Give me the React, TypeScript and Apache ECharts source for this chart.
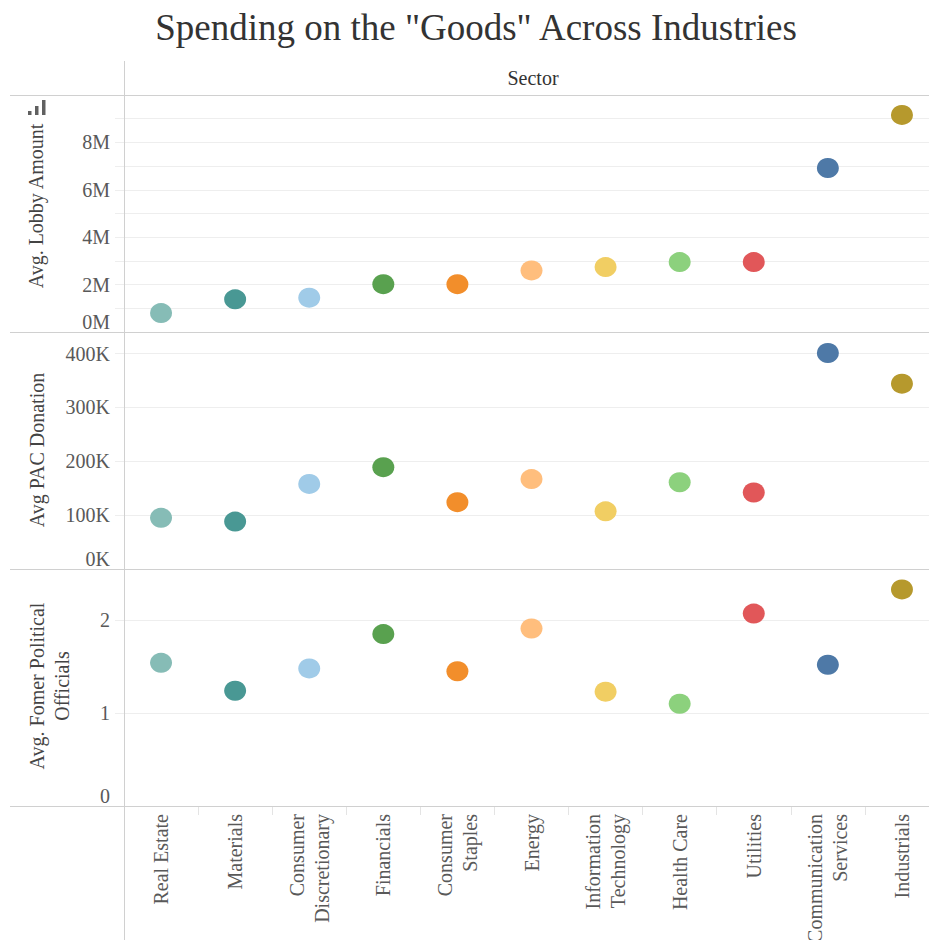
import React, { useEffect, useRef } from "react";
import * as echarts from "echarts";

const categories = [
  "Real Estate",
  "Materials",
  "Consumer\nDiscretionary",
  "Financials",
  "Consumer\nStaples",
  "Energy",
  "Information\nTechnology",
  "Health Care",
  "Utilities",
  "Communication\nServices",
  "Industrials",
];
const colors = [
  "#86bcb6",
  "#499894",
  "#a0cbe8",
  "#59a14f",
  "#f28e2b",
  "#ffbe7d",
  "#f1ce63",
  "#8cd17d",
  "#e15759",
  "#4e79a7",
  "#b6992d",
];
const lobbyAmount = [0.8e6, 1.38e6, 1.45e6, 2.02e6, 2.02e6, 2.6e6, 2.74e6, 2.95e6, 2.95e6, 6.92e6, 9.16e6];
const pacDonation = [95000, 88000, 158000, 189000, 124000, 167000, 107000, 161000, 142000, 401000, 344000];
const formerOfficials = [1.54, 1.24, 1.48, 1.85, 1.45, 1.91, 1.23, 1.1, 2.07, 1.52, 2.33];

const lobbyTickLabels = ["0M", "2M", "4M", "6M", "8M"];
const pacTickLabels = ["0K", "100K", "200K", "300K", "400K"];
const officialsTickLabels = ["0", "1", "2"];

const panelTitles = ["Avg. Lobby Amount", "Avg PAC Donation", "Avg. Fomer Political\nOfficials"];
const chartTitle = 'Spending on the "Goods" Across Industries';
const headerTitle = "Sector";

const FONT = "'Liberation Serif', 'Times New Roman', serif";
const GRID_COLOR = "#eeeeee";
const BORDER = "#d0d0d0";
const LABEL_COLOR = "#595959";

export default function App() {
  const ref = useRef<HTMLDivElement>(null);
  useEffect(() => {
    document.body.style.margin = "0";
    if (!ref.current) return;
    const chart = echarts.init(ref.current, null, { renderer: "svg" });

    const tops = [95, 332, 569];
    const H = 237;
    const grids = tops.map((t) => ({
      left: 124,
      top: t,
      width: 815,
      height: H,
      containLabel: false,
      outerBoundsMode: "none",
    }));

    const xAxes = tops.map((_, i) => ({
      type: "category",
      gridIndex: i,
      data: categories,
      show: i === 2,
      boundaryGap: true,
      axisLine: { show: false },
      axisTick: { show: i === 2, length: 9, interval: 0, lineStyle: { color: "#e4e4e4" } },
      axisLabel: {
        show: i === 2,
        interval: 0,
        rotate: 90,
        margin: 8,
        fontFamily: FONT,
        fontSize: 20,
        lineHeight: 25,
        color: LABEL_COLOR,
      },
      splitLine: { show: false },
    }));

    const yCommon = {
      type: "value",
      axisLine: { show: false },
      axisTick: { show: true, length: 9, lineStyle: { color: GRID_COLOR } },
      splitLine: { show: true, lineStyle: { color: GRID_COLOR, width: 1 } },
    };
    const labelStyle = {
      margin: 14,
      fontFamily: FONT,
      fontSize: 20,
      color: LABEL_COLOR,
      verticalAlignMinLabel: "bottom",
      showMaxLabel: false,
    };
    const yAxes = [
      {
        ...yCommon,
        gridIndex: 0,
        min: 0,
        max: 10e6,
        interval: 1e6,
        axisLabel: {
          ...labelStyle,
          formatter: (v: number) => {
            const idx = Math.round(v / 2e6);
            return Math.abs(v - idx * 2e6) < 1 && idx < lobbyTickLabels.length ? lobbyTickLabels[idx] : "";
          },
        },
      },
      {
        ...yCommon,
        gridIndex: 1,
        min: 0,
        max: 440000,
        interval: 100000,
        axisLabel: {
          ...labelStyle,
          formatter: (v: number) => {
            const idx = Math.round(v / 100000);
            return Math.abs(v - idx * 100000) < 1 && idx < pacTickLabels.length ? pacTickLabels[idx] : "";
          },
        },
      },
      {
        ...yCommon,
        gridIndex: 2,
        min: 0,
        max: 2.55,
        interval: 1,
        axisLabel: {
          ...labelStyle,
          formatter: (v: number) => {
            const idx = Math.round(v);
            return Math.abs(v - idx) < 1e-6 && idx < officialsTickLabels.length ? officialsTickLabels[idx] : "";
          },
        },
      },
    ];

    const mk = (vals: number[], i: number) => ({
      type: "scatter",
      xAxisIndex: i,
      yAxisIndex: i,
      symbol: "circle",
      symbolSize: [22, 20],
      data: vals.map((v, k) => ({ value: v, itemStyle: { color: colors[k], opacity: 1 } })),
      z: 5,
    });

    const hLines = [95, 332, 569, 806].map((y) => ({
      type: "line",
      shape: { x1: 10, y1: y + 0.5, x2: 929, y2: y + 0.5 },
      style: { stroke: BORDER, lineWidth: 1 },
      z: 10,
    }));

    const titleCenters = [
      { x: 36, y: 206 },
      { x: 37, y: 450 },
      { x: 49, y: 686 },
    ];
    const rotatedTitles = panelTitles.map((t, i) => ({
      type: "text",
      x: titleCenters[i].x,
      y: titleCenters[i].y,
      rotation: Math.PI / 2,
      style: {
        text: t,
        align: "center",
        verticalAlign: "middle",
        fontFamily: FONT,
        fontSize: 20,
        lineHeight: 25,
        fill: "#444",
      },
      z: 10,
    }));

    const iconBars = [
      { x: 28, h: 4 },
      { x: 35, h: 9 },
      { x: 42, h: 15 },
    ].map((b) => ({
      type: "rect",
      shape: { x: b.x, y: 115 - b.h, width: 3.5, height: b.h },
      style: { fill: "#606060" },
      z: 10,
    }));

    chart.setOption({
      animation: false,
      backgroundColor: "#ffffff",
      grid: grids,
      xAxis: xAxes,
      yAxis: yAxes,
      series: [mk(lobbyAmount, 0), mk(pacDonation, 1), mk(formerOfficials, 2)],
      graphic: [
        {
          type: "text",
          x: 476,
          y: 27,
          style: {
            text: chartTitle,
            align: "center",
            verticalAlign: "middle",
            fontFamily: FONT,
            fontSize: 37,
            fill: "#333",
          },
        },
        {
          type: "text",
          x: 533,
          y: 78,
          style: {
            text: headerTitle,
            align: "center",
            verticalAlign: "middle",
            fontFamily: FONT,
            fontSize: 20,
            fill: "#333",
          },
        },
        ...hLines,
        {
          type: "line",
          shape: { x1: 124.5, y1: 61, x2: 124.5, y2: 940 },
          style: { stroke: BORDER, lineWidth: 1 },
          z: 10,
        },
        ...rotatedTitles,
        ...iconBars,
      ],
    });
    return () => chart.dispose();
  }, []);
  return <div ref={ref} style={{ width: 929, height: 940 }} />;
}
